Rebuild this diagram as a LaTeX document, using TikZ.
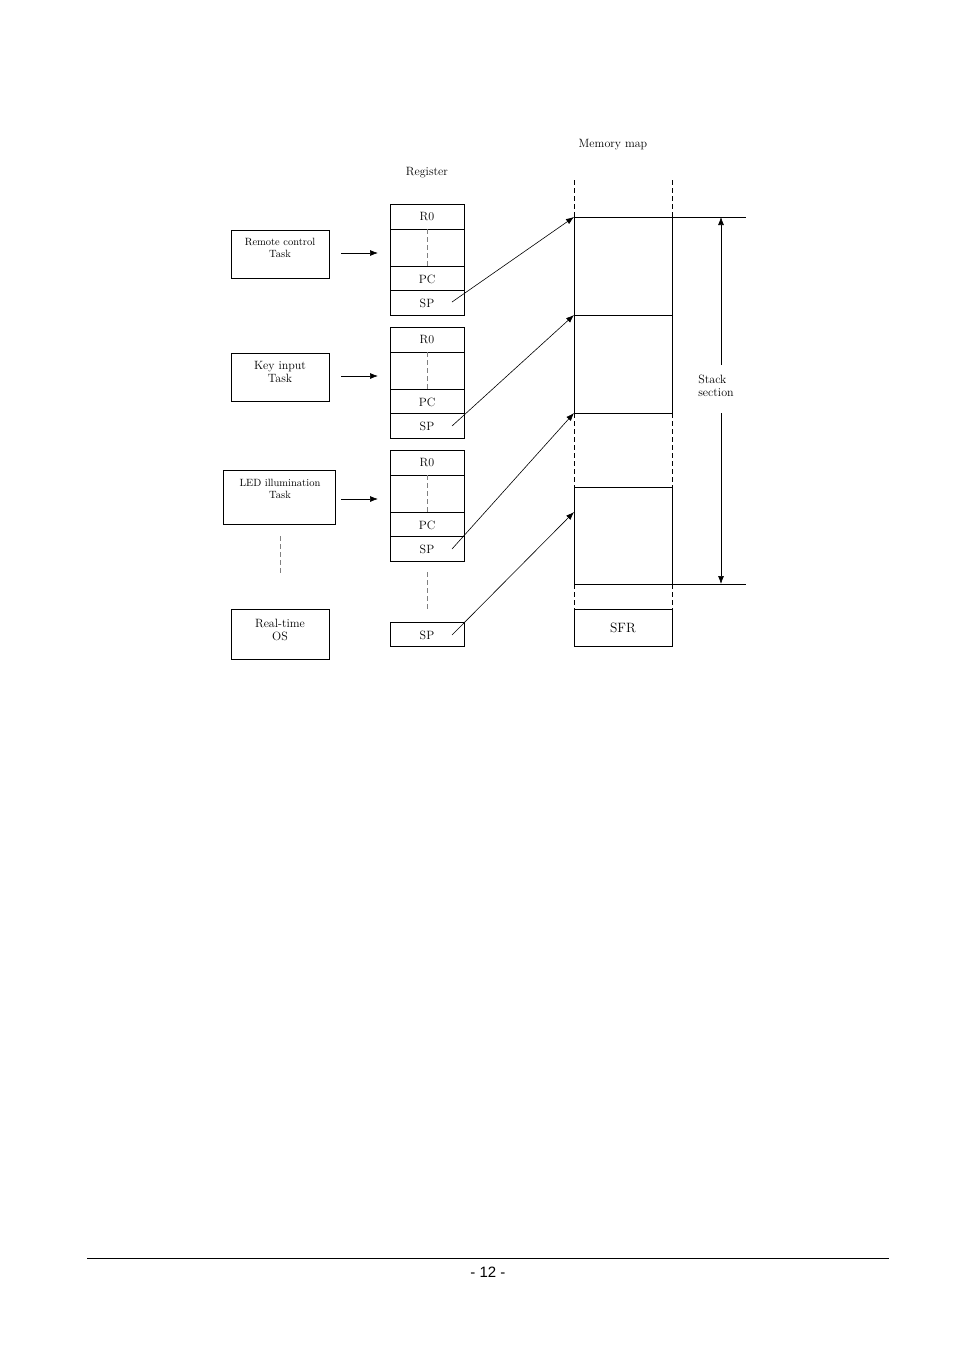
\documentclass[tikz,border=0pt]{standalone}
\usepackage{fontspec}
\usetikzlibrary{arrows.meta}
\newfontfamily\arialf{Liberation Sans}
\begin{document}
\begin{tikzpicture}[x=1pt,y=-1pt,
  box/.style={draw,line width=0.7pt},
  lbl/.style={font=\fontsize{12}{13}\selectfont,align=center,inner sep=0},
  arr/.style={-{Latex[length=8pt,width=6pt]},line width=0.7pt},
  dsh/.style={gray,dash pattern=on 5pt off 3pt,line width=0.9pt},
  mdsh/.style={dash pattern=on 5pt off 3pt,line width=0.7pt}]
\useasboundingbox (0,0) rectangle (954,1350);
% tasks
\draw[box] (231,230) rectangle (329,278);
\node[lbl,font=\fontsize{10.5}{12}\selectfont] (t1) at (280,248) {Remote control\\Task};
\draw[box] (231,353) rectangle (329,401);
\node[lbl] (t2) at (280,372) {Key input\\Task};
\draw[box] (223,470) rectangle (335,524);
\node[lbl,font=\fontsize{10.5}{12}\selectfont] (t3) at (280,489) {LED illumination\\Task};
\draw[box] (231,609) rectangle (329,659);
\node[lbl] (t4) at (280,630) {Real-time\\OS};
\draw[dsh] (280,536) -- (280,573);
\coordinate (a1s) at (341,253); \coordinate (a1e) at (378,253);
\coordinate (a2s) at (341,376); \coordinate (a2e) at (378,376);
\coordinate (a3s) at (341,499); \coordinate (a3e) at (378,499);
\draw[arr] (a1s) -- (a1e); \draw[arr] (a2s) -- (a2e); \draw[arr] (a3s) -- (a3e);
% registers
\node[lbl] at (427,173) {Register};
\foreach \y in {204,327,450}{
  \draw[box] (390,\y) rectangle (464,\y+25);
  \draw[box] (390,\y+25) rectangle (464,\y+62);
  \draw[box] (390,\y+62) rectangle (464,\y+86);
  \draw[box] (390,\y+86) rectangle (464,\y+111);
  \draw[dsh] (427,\y+25) -- (427,\y+62);
  \node[lbl] at (427,\y+13) {R0};
  \node[lbl] at (427,\y+75) {PC};
  \node[lbl] at (427,\y+99) {SP};
}
\draw[dsh] (427,572) -- (427,610);
\draw[box] (390,622) rectangle (464,646);
\node[lbl] at (427,635) {SP};
% memory
\node[lbl] at (613,145) {Memory map};
\draw[mdsh] (574,180) -- (574,217); \draw[mdsh] (672,180) -- (672,217);
\draw[line width=0.7pt] (574,217) -- (746,217);
\draw[line width=0.7pt] (574,217) -- (574,413) (672,217) -- (672,413);
\draw[line width=0.7pt] (574,315) -- (672,315) (574,413) -- (672,413);
\draw[mdsh] (574,413) -- (574,487); \draw[mdsh] (672,413) -- (672,487);
\draw[line width=0.7pt] (574,487) rectangle (672,584);
\draw[line width=0.7pt] (672,584) -- (746,584);
\draw[mdsh] (574,584) -- (574,609); \draw[mdsh] (672,584) -- (672,609);
\draw[box] (574,609) rectangle (672,646);
\node[lbl,font=\fontsize{13.5}{15}\selectfont] at (623,628) {SFR};
\node[lbl,align=left] (ss) at (716,386) {Stack\\section};
\coordinate (st) at (721,217); \coordinate (sb) at (721,584);
\draw[arr] (721,365) -- (st);
\draw[arr] (721,413) -- (sb);
% SP arrows
\coordinate (p1) at (452,302); \coordinate (m1) at (574,217);
\coordinate (p2) at (452,426); \coordinate (m2) at (574,315);
\coordinate (p3) at (452,549); \coordinate (m3) at (574,413);
\coordinate (p4) at (452,635); \coordinate (m4) at (574,512);
\draw[arr,line width=0.6pt] (p1) -- (m1);
\draw[arr,line width=0.6pt] (p2) -- (m2);
\draw[arr,line width=0.6pt] (p3) -- (m3);
\draw[arr,line width=0.6pt] (p4) -- (m4);
% footer
\draw[line width=1pt] (87,1258) -- (889,1258);
\node[inner sep=0,font=\arialf\fontsize{15}{16}\selectfont] at (488,1272) {- 12 -};
\end{tikzpicture}
\end{document}
